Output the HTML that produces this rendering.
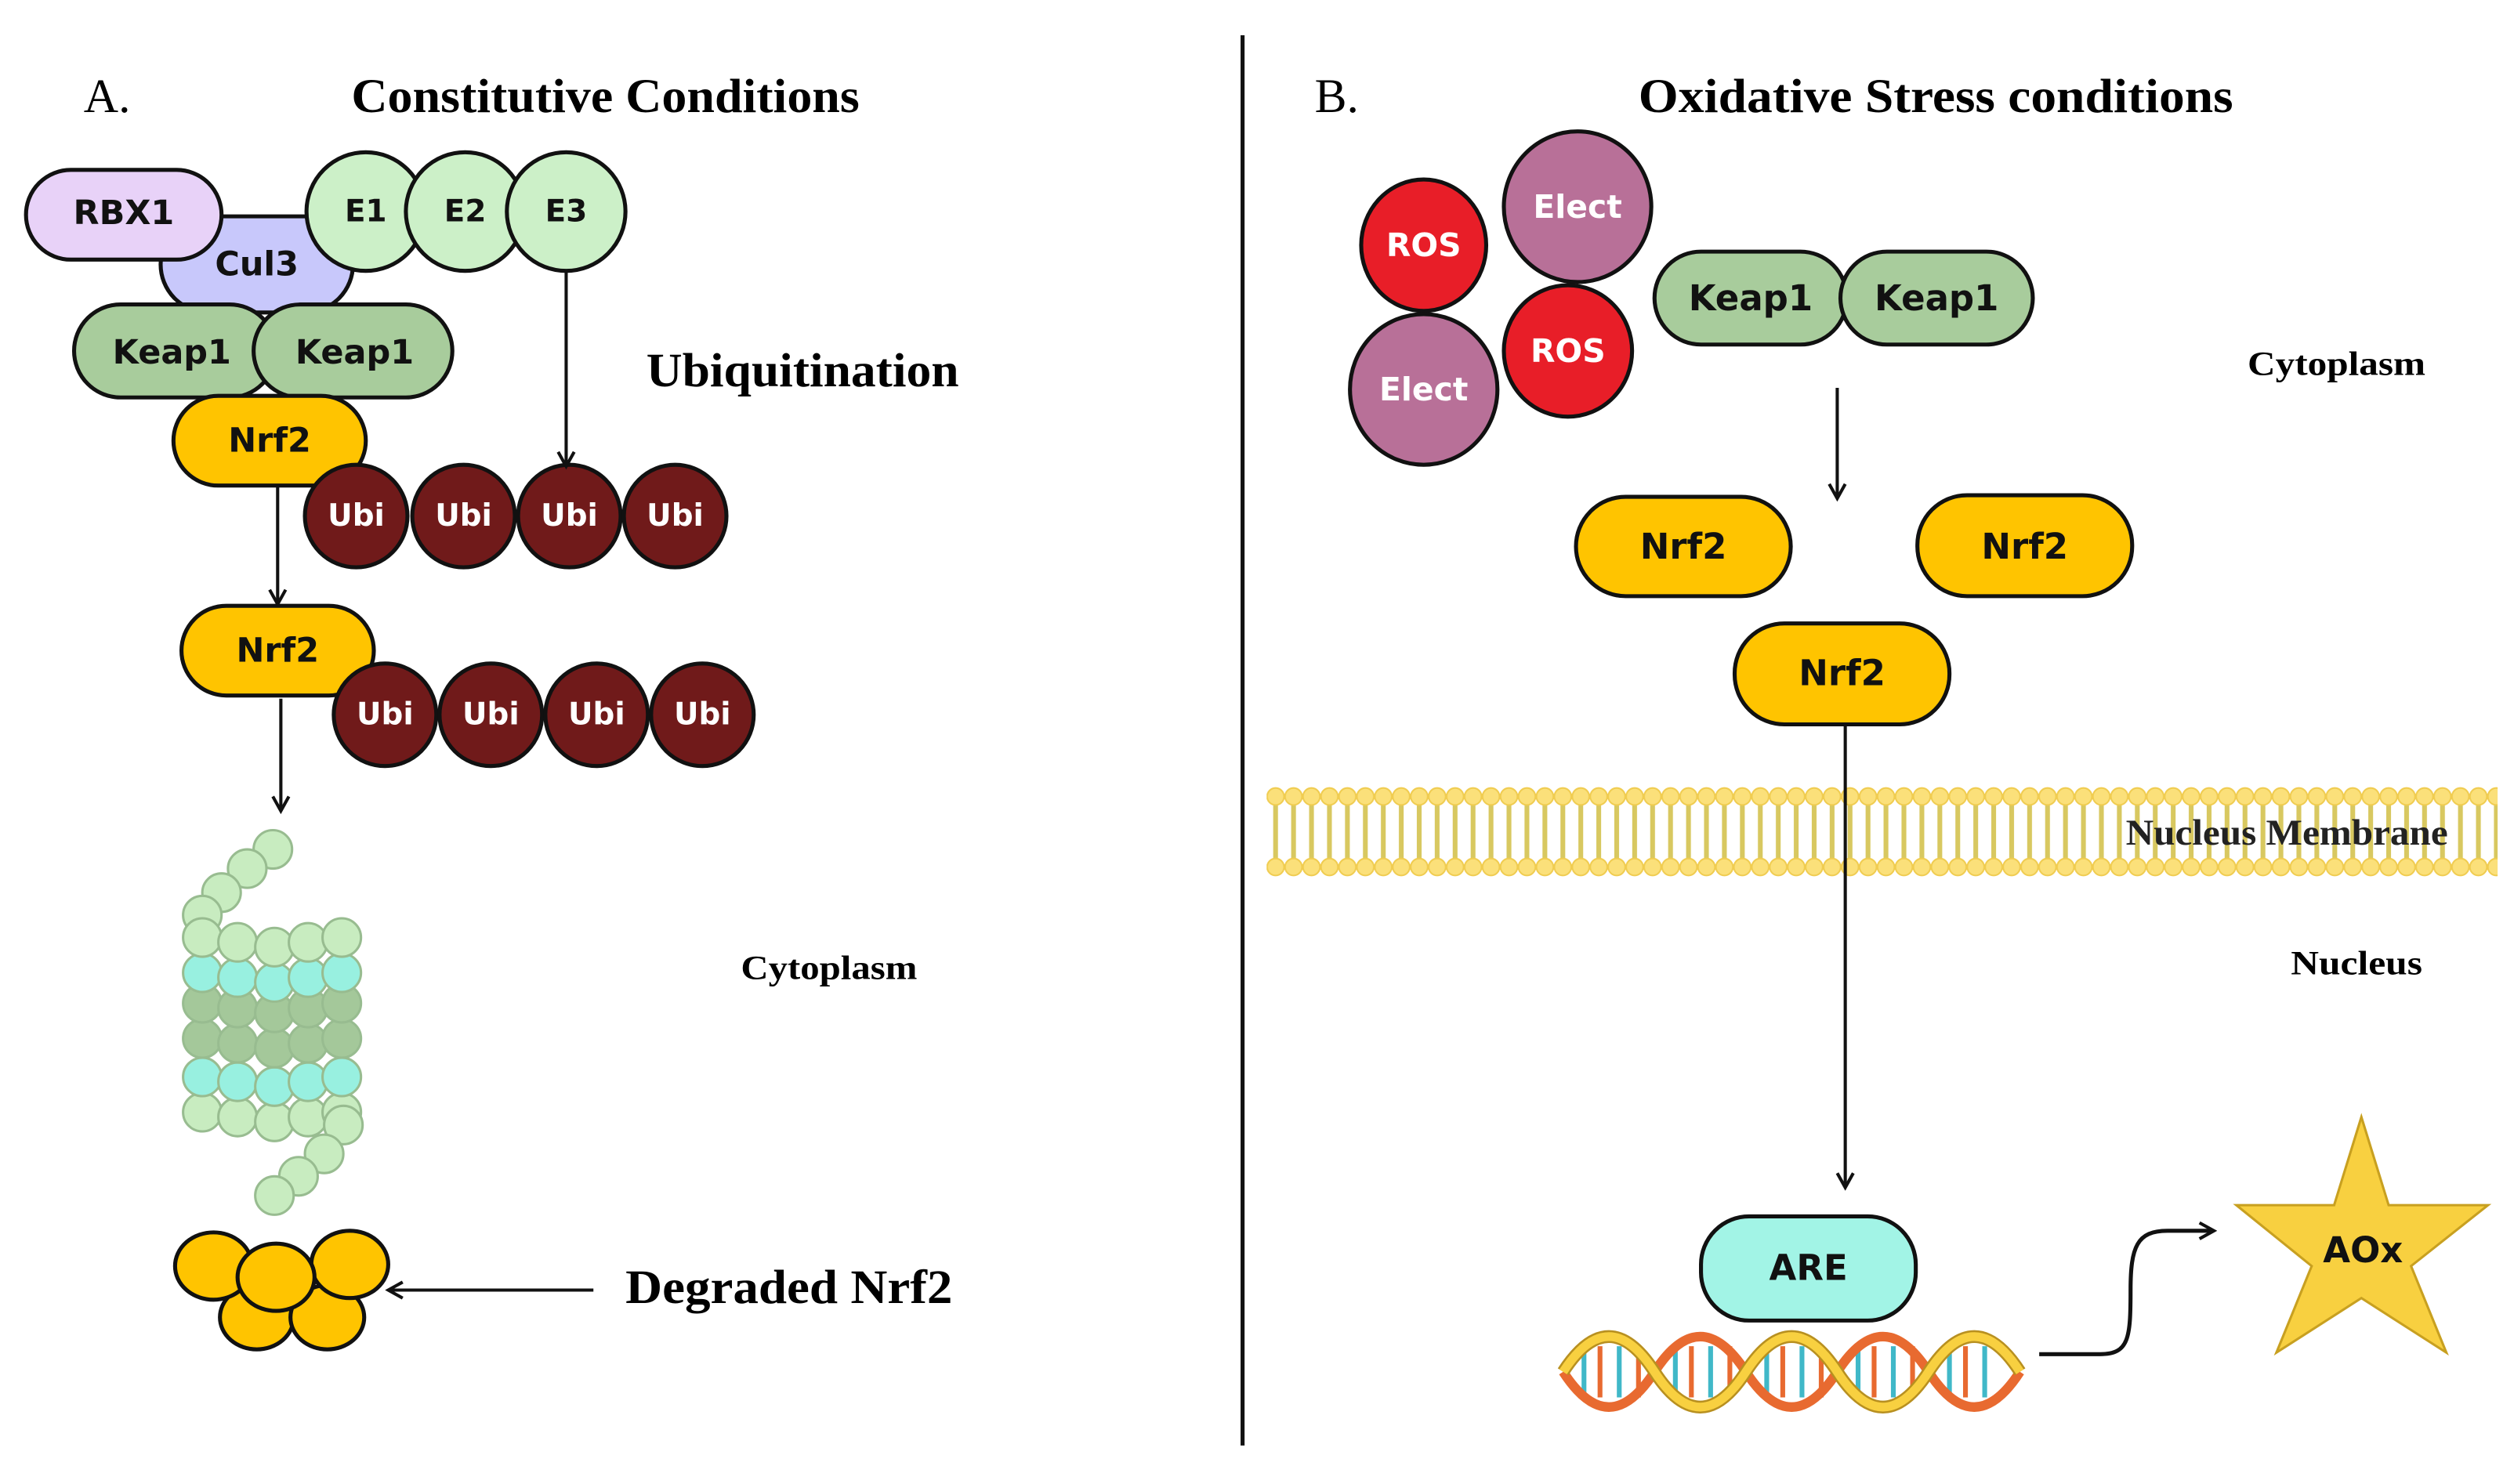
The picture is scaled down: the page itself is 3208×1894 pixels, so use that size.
<!DOCTYPE html>
<html><head><meta charset="utf-8"><style>
html,body{margin:0;padding:0;background:#fff;}
svg{display:block;}
.t{font-family:"DejaVu Sans","Liberation Sans",sans-serif;font-weight:bold;text-anchor:middle;dominant-baseline:central;}
.s{font-family:"Liberation Serif",serif;font-weight:bold;}
</style></head><body>
<svg width="3208" height="1894" viewBox="0 0 1568 926" xmlns="http://www.w3.org/2000/svg">
<defs>
<marker id="ar" markerWidth="12" markerHeight="12" refX="9" refY="6" orient="auto" markerUnits="userSpaceOnUse">
<path d="M1,1 L10,6 L1,11" fill="none" stroke="#111" stroke-width="2"/>
</marker>
<pattern id="mem" x="790" y="0" width="11.2" height="926" patternUnits="userSpaceOnUse">
<line x1="5.6" y1="500" x2="5.6" y2="538" stroke="#d8c860" stroke-width="3"/>
<circle cx="5.6" cy="497" r="5.3" fill="#fbe07a" stroke="#f0cc50" stroke-width="1"/>
<circle cx="5.6" cy="541" r="5.3" fill="#fbe07a" stroke="#f0cc50" stroke-width="1"/>
</pattern>
</defs>
<rect width="1568" height="926" fill="#fff"/>

<text x="52" y="70" class="s" style="font-weight:normal" font-size="30">A.</text>
<text x="219" y="70" class="s" font-size="30" textLength="317" lengthAdjust="spacingAndGlyphs">Constitutive Conditions</text>
<line x1="775" y1="22" x2="775" y2="902" stroke="#111" stroke-width="2.5"/>
<text x="820" y="70" class="s" style="font-weight:normal" font-size="30">B.</text>
<text x="1022" y="70" class="s" font-size="30" textLength="371" lengthAdjust="spacingAndGlyphs">Oxidative Stress conditions</text>

<g stroke="#111" stroke-width="2.5">
<rect x="100" y="135" width="120" height="60" rx="30" fill="#c8c8fb"/>
<rect x="16" y="106" width="122" height="56" rx="28" fill="#e8d2f8"/>
<circle cx="228" cy="132" r="37" fill="#ccf0c8"/>
<circle cx="290" cy="132" r="37" fill="#ccf0c8"/>
<circle cx="353" cy="132" r="37" fill="#ccf0c8"/>
<rect x="46" y="190" width="126" height="58" rx="29" fill="#a8cc9c"/>
<rect x="158" y="190" width="124" height="58" rx="29" fill="#a8cc9c"/>
<rect x="108" y="247" width="120" height="56" rx="28" fill="#ffc400"/>
<circle cx="222" cy="322" r="32" fill="#701a1a"/>
<circle cx="289" cy="322" r="32" fill="#701a1a"/>
<circle cx="355" cy="322" r="32" fill="#701a1a"/>
<circle cx="421" cy="322" r="32" fill="#701a1a"/>
<rect x="113" y="378" width="120" height="56" rx="28" fill="#ffc400"/>
<circle cx="240" cy="446" r="32" fill="#701a1a"/>
<circle cx="306" cy="446" r="32" fill="#701a1a"/>
<circle cx="372" cy="446" r="32" fill="#701a1a"/>
<circle cx="438" cy="446" r="32" fill="#701a1a"/>
</g>
<g class="t" font-size="21" fill="#111">
<text x="77" y="133">RBX1</text>
<text x="160" y="165">Cul3</text>
<text x="228" y="132" font-size="19">E1</text>
<text x="290" y="132" font-size="19">E2</text>
<text x="353" y="132" font-size="19">E3</text>
<text x="107" y="220">Keap1</text>
<text x="221" y="220">Keap1</text>
<text x="168" y="275">Nrf2</text>
<text x="173" y="406">Nrf2</text>
</g>
<g class="t" font-size="19" fill="#fff">
<text x="222" y="322">Ubi</text><text x="289" y="322">Ubi</text><text x="355" y="322">Ubi</text><text x="421" y="322">Ubi</text>
<text x="240" y="446">Ubi</text><text x="306" y="446">Ubi</text><text x="372" y="446">Ubi</text><text x="438" y="446">Ubi</text>
</g>
<g stroke="#111" stroke-width="2" marker-end="url(#ar)">
<line x1="353" y1="170" x2="353" y2="290"/>
<line x1="173" y1="304" x2="173" y2="376"/>
<line x1="175" y1="436" x2="175" y2="505"/>
<line x1="370" y1="805" x2="243" y2="805"/>
</g>
<text x="403" y="241" class="s" font-size="30" textLength="195" lengthAdjust="spacingAndGlyphs">Ubiquitination</text>
<text x="462" y="611" class="s" font-size="21" textLength="110" lengthAdjust="spacingAndGlyphs">Cytoplasm</text>
<text x="390" y="813" class="s" font-size="30" textLength="204" lengthAdjust="spacingAndGlyphs">Degraded Nrf2</text>

<g stroke="#98bc90" stroke-width="1.5">
<g fill="#c8ecc0">
<circle cx="170" cy="530" r="12"/><circle cx="154" cy="542" r="12"/><circle cx="138" cy="557" r="12"/><circle cx="126" cy="571" r="12"/>
</g>
<g fill="#c8ecc0"><circle cx="126" cy="694" r="12"/><circle cx="148" cy="697" r="12"/><circle cx="171" cy="700" r="12"/><circle cx="192" cy="697" r="12"/><circle cx="213" cy="694" r="12"/></g>
<g fill="#98f0e0"><circle cx="126" cy="672" r="12"/><circle cx="148" cy="675" r="12"/><circle cx="171" cy="678" r="12"/><circle cx="192" cy="675" r="12"/><circle cx="213" cy="672" r="12"/></g>
<g fill="#a4c89a"><circle cx="126" cy="648" r="12"/><circle cx="148" cy="651" r="12"/><circle cx="171" cy="654" r="12"/><circle cx="192" cy="651" r="12"/><circle cx="213" cy="648" r="12"/></g>
<g fill="#a4c89a"><circle cx="126" cy="626" r="12"/><circle cx="148" cy="629" r="12"/><circle cx="171" cy="632" r="12"/><circle cx="192" cy="629" r="12"/><circle cx="213" cy="626" r="12"/></g>
<g fill="#98f0e0"><circle cx="126" cy="607" r="12"/><circle cx="148" cy="610" r="12"/><circle cx="171" cy="613" r="12"/><circle cx="192" cy="610" r="12"/><circle cx="213" cy="607" r="12"/></g>
<g fill="#c8ecc0"><circle cx="126" cy="585" r="12"/><circle cx="148" cy="588" r="12"/><circle cx="171" cy="591" r="12"/><circle cx="192" cy="588" r="12"/><circle cx="213" cy="585" r="12"/></g>
<g fill="#c8ecc0">
<circle cx="214" cy="702" r="12"/><circle cx="202" cy="720" r="12"/><circle cx="186" cy="734" r="12"/><circle cx="171" cy="746" r="12"/>
</g>
</g>
<g stroke="#111" stroke-width="2.5" fill="#ffc400">
<ellipse cx="160" cy="822" rx="23" ry="20"/><ellipse cx="204" cy="822" rx="23" ry="20"/>
<ellipse cx="133" cy="790" rx="24" ry="21"/><ellipse cx="218" cy="789" rx="24" ry="21"/><ellipse cx="172" cy="797" rx="24" ry="21"/>
</g>

<g stroke="#111" stroke-width="2.5">
<ellipse cx="888" cy="153" rx="39" ry="41" fill="#e81e28"/>
<ellipse cx="984" cy="129" rx="46" ry="47" fill="#b87098"/>
<ellipse cx="978" cy="219" rx="40" ry="41" fill="#e81e28"/>
<ellipse cx="888" cy="243" rx="46" ry="47" fill="#b87098"/>
<rect x="1032" y="157" width="120" height="58" rx="29" fill="#a8cc9c"/>
<rect x="1148" y="157" width="120" height="58" rx="29" fill="#a8cc9c"/>
<rect x="983" y="310" width="134" height="62" rx="31" fill="#ffc400"/>
<rect x="1196" y="309" width="134" height="63" rx="31" fill="#ffc400"/>
<rect x="1082" y="389" width="134" height="63" rx="31" fill="#ffc400"/>
<rect x="1061" y="759" width="134" height="65" rx="30" fill="#a2f4e6"/>
</g>
<g class="t" font-size="20" fill="#fff">
<text x="888" y="153">ROS</text><text x="984" y="129">Elect</text><text x="978" y="219">ROS</text><text x="888" y="243">Elect</text>
</g>
<g class="t" font-size="22" fill="#111">
<text x="1092" y="186">Keap1</text><text x="1208" y="186">Keap1</text>
<text x="1050" y="341">Nrf2</text><text x="1263" y="341">Nrf2</text><text x="1149" y="420">Nrf2</text>
<text x="1128" y="791">ARE</text>
</g>
<text x="1402" y="234" class="s" font-size="21" textLength="111" lengthAdjust="spacingAndGlyphs">Cytoplasm</text>

<rect x="790" y="488" width="768" height="62" fill="url(#mem)"/>
<text x="1326" y="527" class="s" font-size="23" textLength="201" lengthAdjust="spacingAndGlyphs" fill="#222">Nucleus Membrane</text>
<text x="1429" y="608" class="s" font-size="21" textLength="82" lengthAdjust="spacingAndGlyphs">Nucleus</text>

<g stroke="#111" stroke-width="2" marker-end="url(#ar)">
<line x1="1146" y1="242" x2="1146" y2="310"/>
<line x1="1151" y1="452" x2="1151" y2="740"/>
</g>

<g>
<g stroke-width="3">
<line x1="988" y1="840" x2="988" y2="872" stroke="#40b8c8"/><line x1="998" y1="840" x2="998" y2="872" stroke="#e86a30"/>
<line x1="1010" y1="840" x2="1010" y2="872" stroke="#40b8c8"/><line x1="1022" y1="840" x2="1022" y2="872" stroke="#e86a30"/>
<line x1="1045" y1="840" x2="1045" y2="872" stroke="#40b8c8"/><line x1="1055" y1="840" x2="1055" y2="872" stroke="#e86a30"/>
<line x1="1067" y1="840" x2="1067" y2="872" stroke="#40b8c8"/><line x1="1079" y1="840" x2="1079" y2="872" stroke="#e86a30"/>
<line x1="1102" y1="840" x2="1102" y2="872" stroke="#40b8c8"/><line x1="1112" y1="840" x2="1112" y2="872" stroke="#e86a30"/>
<line x1="1124" y1="840" x2="1124" y2="872" stroke="#40b8c8"/><line x1="1136" y1="840" x2="1136" y2="872" stroke="#e86a30"/>
<line x1="1159" y1="840" x2="1159" y2="872" stroke="#40b8c8"/><line x1="1169" y1="840" x2="1169" y2="872" stroke="#e86a30"/>
<line x1="1181" y1="840" x2="1181" y2="872" stroke="#40b8c8"/><line x1="1193" y1="840" x2="1193" y2="872" stroke="#e86a30"/>
<line x1="1216" y1="840" x2="1216" y2="872" stroke="#40b8c8"/><line x1="1226" y1="840" x2="1226" y2="872" stroke="#e86a30"/>
<line x1="1238" y1="840" x2="1238" y2="872" stroke="#40b8c8"/>
</g>
<path d="M975,856 q28.5,44 57,0 t57,0 t57,0 t57,0 t57,0" fill="none" stroke="#e86a30" stroke-width="6"/>
<path d="M975,856 q28.5,-44 57,0 t57,0 t57,0 t57,0 t57,0" fill="none" stroke="#b89020" stroke-width="8"/>
<path d="M975,856 q28.5,-44 57,0 t57,0 t57,0 t57,0 t57,0" fill="none" stroke="#f8d040" stroke-width="5.5"/>
</g>

<path d="M1272,845 L1310,845 C1328,845 1329,835 1329,805 C1329,778 1333,768 1352,768 L1380,768" fill="none" stroke="#111" stroke-width="2.5" marker-end="url(#ar)"/>

<polygon points="1473,697 1490,752 1552,752 1504,790 1526,844 1473,810 1420,844 1442,790 1395,752 1456,752" fill="#f8d040" stroke="#c8a020" stroke-width="1.5"/>
<text x="1474" y="780" class="t" font-size="22" fill="#111">AOx</text>
</svg>
</body></html>
